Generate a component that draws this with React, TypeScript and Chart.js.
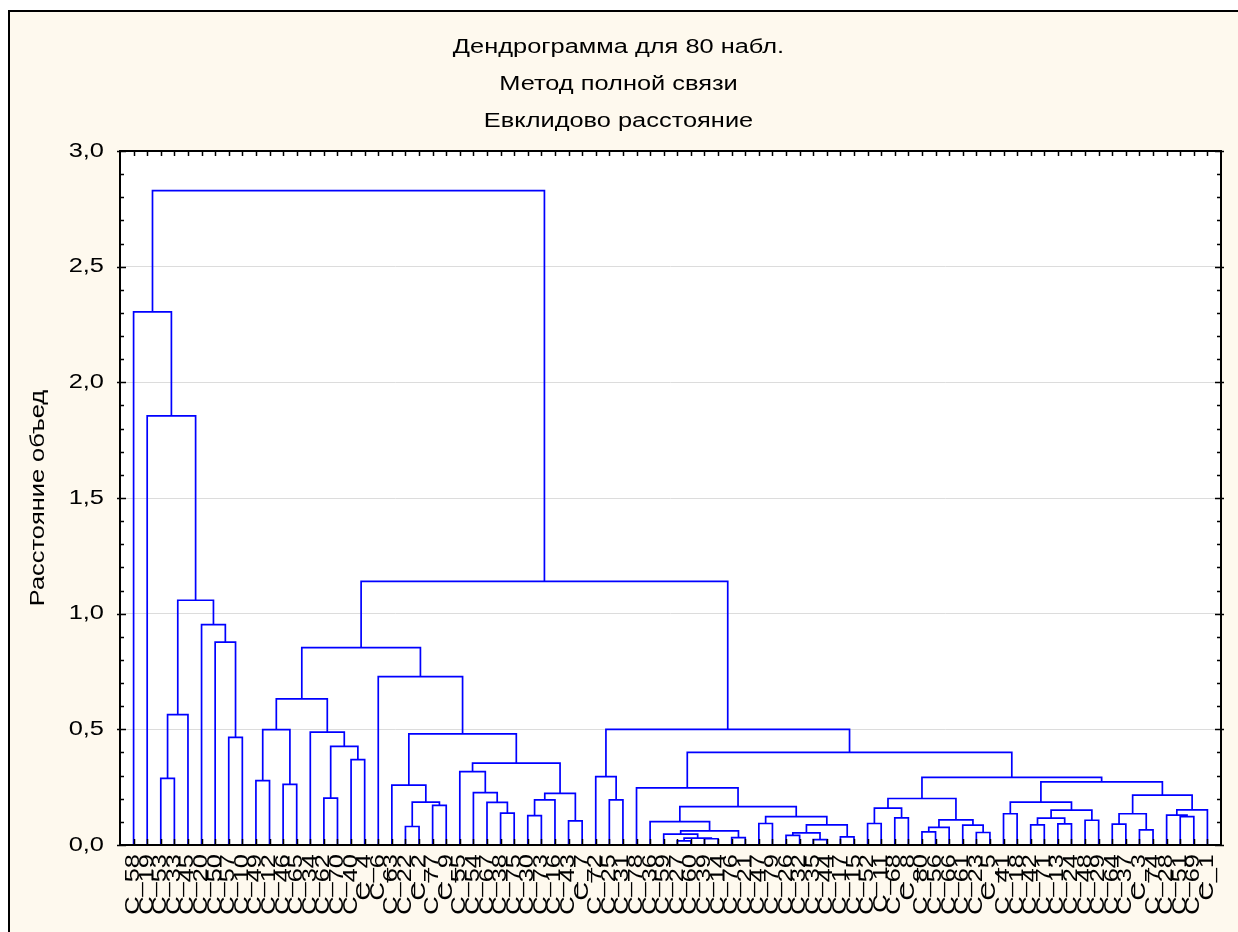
import React, { useEffect, useRef } from 'react';
import { Chart, registerables } from 'chart.js';

Chart.register(...registerables);

// ---- data ----
const titleLines = ['Дендрограмма для 80 набл.', 'Метод полной связи', 'Евклидово расстояние'];
const yAxisTitle = 'Расстояние объед';

// leaf labels in display order (left to right)
const leafLabels = [
  'C_58', 'C_19', 'C_53', 'C_33', 'C_45', 'C_20', 'C_50', 'C_57', 'C_10', 'C_49',
  'C_12', 'C_46', 'C_65', 'C_34', 'C_62', 'C_70', 'C_40', 'C_4', 'C_6', 'C_63',
  'C_22', 'C_2', 'C_77', 'C_9', 'C_55', 'C_54', 'C_67', 'C_38', 'C_75', 'C_30',
  'C_73', 'C_16', 'C_43', 'C_7', 'C_72', 'C_25', 'C_31', 'C_78', 'C_36', 'C_59',
  'C_27', 'C_60', 'C_39', 'C_14', 'C_76', 'C_21', 'C_47', 'C_79', 'C_26', 'C_32',
  'C_35', 'C_44', 'C_17', 'C_15', 'C_52', 'C_11', 'C_68', 'C_8', 'C_80', 'C_56',
  'C_66', 'C_61', 'C_23', 'C_5', 'C_41', 'C_18', 'C_42', 'C_71', 'C_13', 'C_24',
  'C_48', 'C_29', 'C_64', 'C_37', 'C_3', 'C_74', 'C_28', 'C_51', 'C_69', 'C_1',
];

// linkage: ids 0..79 are leaves (display index), 80+k is the k-th merge
const mergeLeft = [
  2, 80, 7, 6, 5, 81, 1, 0,
  9, 11, 88, 14, 16, 91, 13, 90,
  20, 22, 96, 19, 27, 26, 25, 24, 29, 104, 32, 105, 103, 99, 18, 95,
  35, 34,
  40, 42, 114, 39, 44, 117, 38, 46, 48, 50, 122, 52, 124, 121, 120, 37,
  54, 56, 130, 58, 133, 62, 61, 134, 132,
  64, 66, 68, 140, 70, 142, 139, 72, 74, 146, 77, 76, 150, 148, 145, 138, 129, 113, 111, 87,
];
const mergeRight = [
  3, 4, 8, 82, 83, 84, 85, 86,
  10, 12, 89, 15, 17, 92, 93, 94,
  21, 23, 97, 98, 28, 100, 101, 102, 30, 31, 33, 106, 107, 108, 109, 110,
  36, 112,
  41, 43, 115, 116, 45, 118, 119, 47, 49, 51, 123, 53, 125, 126, 127, 128,
  55, 57, 131, 59, 60, 63, 135, 136, 137,
  65, 67, 69, 141, 71, 143, 144, 73, 75, 147, 78, 149, 79, 151, 152, 153, 154, 155, 156, 157,
];
const mergeHeight = [
  0.288, 0.564, 0.465, 0.877, 0.953, 1.058, 1.855, 2.305,
  0.278, 0.262, 0.499, 0.203, 0.369, 0.426, 0.488, 0.632,
  0.080, 0.171, 0.185, 0.259, 0.138, 0.184, 0.226, 0.317, 0.127, 0.195, 0.104, 0.223, 0.354, 0.480, 0.728, 0.853,
  0.195, 0.296,
  0.018, 0.027, 0.030, 0.047, 0.032, 0.061, 0.101, 0.093, 0.042, 0.023, 0.052, 0.035, 0.087, 0.123, 0.166, 0.247,
  0.093, 0.117, 0.159, 0.057, 0.076, 0.054, 0.086, 0.109, 0.201,
  0.135, 0.087, 0.091, 0.116, 0.107, 0.151, 0.185, 0.090, 0.065, 0.135, 0.123, 0.129, 0.152, 0.216, 0.273, 0.292, 0.400, 0.500, 1.140, 2.829,
];

const yTickValues = [0, 0.5, 1.0, 1.5, 2.0, 2.5, 3.0];

// ---- styling ----
const FONT = "'Liberation Sans', Arial, sans-serif";
const FONT_SIZE = 20;
const TEXT_STRETCH = 1.27;
const LINE_BLUE = '#0000ff';
const PAGE_BG = '#fef9ee';

function buildDatasets() {
  const n = leafLabels.length;
  const nodeX: number[] = [];
  const nodeH: number[] = [];
  for (let i = 0; i < n; i++) {
    nodeX.push(i + 1);
    nodeH.push(0);
  }
  const datasets: any[] = [];
  for (let k = 0; k < mergeHeight.length; k++) {
    const a = mergeLeft[k];
    const b = mergeRight[k];
    const h = mergeHeight[k];
    nodeX.push((nodeX[a] + nodeX[b]) / 2);
    nodeH.push(h);
    datasets.push({
      data: [
        { x: nodeX[a], y: nodeH[a] },
        { x: nodeX[a], y: h },
        { x: nodeX[b], y: h },
        { x: nodeX[b], y: nodeH[b] },
      ],
      showLine: true,
      borderColor: LINE_BLUE,
      borderWidth: 1.7,
      pointRadius: 0,
      pointHoverRadius: 0,
      tension: 0,
      fill: false,
    });
  }
  return datasets;
}

const framePlugin = {
  id: 'stat-frame',
  beforeDraw(chart: any) {
    const { ctx, chartArea } = chart;
    ctx.save();
    ctx.fillStyle = '#ffffff';
    ctx.fillRect(chartArea.left, chartArea.top, chartArea.right - chartArea.left, chartArea.bottom - chartArea.top);
    ctx.restore();
  },
  afterDraw(chart: any) {
    const { ctx, chartArea } = chart;
    const { left, right, top, bottom } = chartArea;
    const xs = chart.scales.x;
    const ys = chart.scales.y;
    ctx.save();
    ctx.strokeStyle = '#000';
    ctx.lineWidth = 1.5;
    ctx.beginPath();
    for (let i = 1; i <= leafLabels.length; i++) {
      const px = Math.round(xs.getPixelForValue(i)) + 0.5;
      ctx.moveTo(px, bottom);
      ctx.lineTo(px, bottom - 6);
      ctx.moveTo(px, top);
      ctx.lineTo(px, top + 5);
    }
    for (let v = 0; v <= 30; v++) {
      const py = Math.round(ys.getPixelForValue(v / 10)) + 0.5;
      const major = v % 5 === 0;
      if (major) {
        ctx.moveTo(left - 3, py);
        ctx.lineTo(left + 6, py);
        ctx.moveTo(right - 6, py);
        ctx.lineTo(right + 3, py);
      } else {
        ctx.moveTo(left, py);
        ctx.lineTo(left + 4, py);
        ctx.moveTo(right - 4, py);
        ctx.lineTo(right, py);
      }
    }
    ctx.stroke();
    ctx.lineWidth = 2;
    ctx.strokeRect(left, top, right - left, bottom - top);
    ctx.restore();
  },
};

export default function App() {
  const canvasRef = useRef<HTMLCanvasElement | null>(null);

  useEffect(() => {
    const canvas = canvasRef.current;
    if (!canvas) return;
    const ctx: any = canvas.getContext('2d');
    // the original's text is drawn slightly widened along its direction
    const origFill = ctx.fillText.bind(ctx);
    ctx.fillText = (text: string, x: number, y: number) => {
      ctx.save();
      ctx.translate(x, y);
      ctx.scale(TEXT_STRETCH, 1);
      origFill(text, 0, 0);
      ctx.restore();
    };

    const chart = new Chart(canvas, {
      type: 'scatter',
      data: { datasets: buildDatasets() },
      plugins: [framePlugin],
      options: {
        responsive: false,
        devicePixelRatio: 1,
        animation: false,
        events: [],
        layout: { padding: { left: 6, right: 17, top: 0, bottom: 0 } },
        plugins: {
          legend: { display: false },
          tooltip: { enabled: false },
          title: {
            display: true,
            text: titleLines,
            color: '#000',
            font: { family: FONT, size: FONT_SIZE, weight: 'normal', lineHeight: 37 / FONT_SIZE },
            padding: { top: 17, bottom: 11 },
          },
        },
        scales: {
          x: {
            type: 'linear',
            min: 0,
            max: leafLabels.length + 1,
            afterBuildTicks: (s: any) => {
              s.ticks = leafLabels.map((_, i) => ({ value: i + 1 }));
            },
            afterFit: (s: any) => {
              s.height = 87;
              s.paddingLeft = 0;
              s.paddingRight = 0;
            },
            ticks: {
              autoSkip: false,
              minRotation: 90,
              maxRotation: 90,
              padding: 9,
              color: '#000',
              font: { family: FONT, size: FONT_SIZE },
              callback: (v: any) => leafLabels[Math.round(v) - 1] ?? '',
            },
            grid: { display: false, drawTicks: false },
            border: { display: false },
          },
          y: {
            type: 'linear',
            min: 0,
            max: 3,
            afterBuildTicks: (s: any) => {
              s.ticks = yTickValues.map((v) => ({ value: v }));
            },
            afterFit: (s: any) => {
              s.width = 104;
              s.paddingTop = 0;
              s.paddingBottom = 0;
            },
            ticks: {
              padding: 16,
              color: '#000',
              font: { family: FONT, size: FONT_SIZE },
              callback: (v: any) => Number(v).toFixed(1).replace('.', ','),
            },
            grid: {
              drawTicks: false,
              lineWidth: 1,
              color: (c: any) => (c.tick && (c.tick.value === 0 || c.tick.value === 3) ? 'rgba(0,0,0,0)' : '#dcdcdc'),
            },
            border: { display: false },
            title: {
              display: true,
              text: yAxisTitle,
              color: '#000',
              font: { family: FONT, size: FONT_SIZE },
              padding: { top: 10, bottom: 0 },
            },
          },
        },
      },
    } as any);

    return () => {
      chart.destroy();
    };
  }, []);

  return (
    <div
      style={{
        position: 'absolute',
        left: 8,
        top: 10,
        width: 1240,
        height: 930,
        border: '2px solid #000',
        background: PAGE_BG,
        boxSizing: 'border-box',
        overflow: 'hidden',
      }}
    >
      <canvas ref={canvasRef} width={1228} height={920} style={{ display: 'block' }} />
    </div>
  );
}
